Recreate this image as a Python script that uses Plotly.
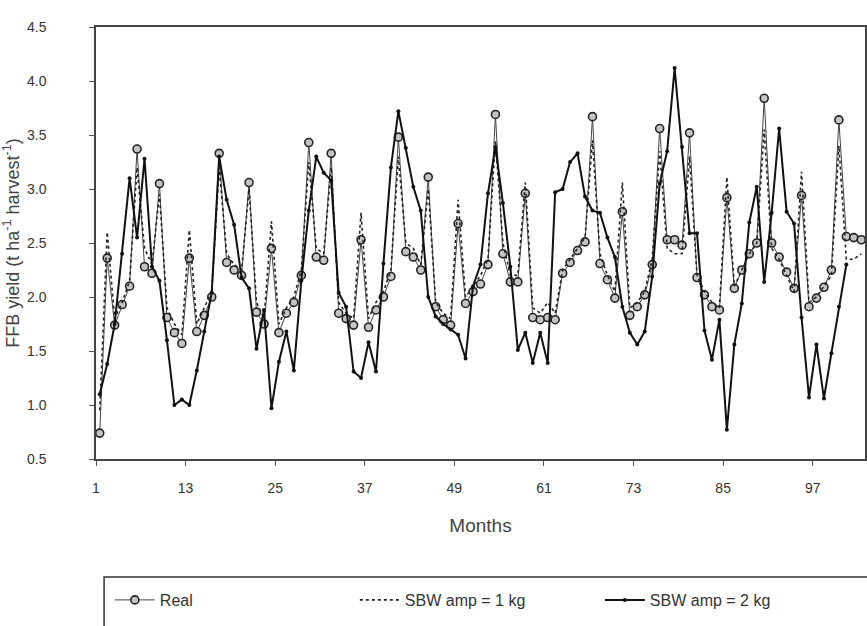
import plotly.graph_objects as go

months = list(range(1, 104))

real = [0.74, 2.36, 1.74, 1.93, 2.10, 3.37, 2.28, 2.22, 3.05, 1.81,
        1.67, 1.57, 2.36, 1.68, 1.83, 2.00, 3.33, 2.32, 2.25, 2.20,
        3.06, 1.86, 1.75, 2.45, 1.67, 1.85, 1.95, 2.20, 3.43, 2.37,
        2.34, 3.33, 1.85, 1.80, 1.74, 2.53, 1.72, 1.88, 2.00, 2.19,
        3.48, 2.42, 2.37, 2.25, 3.11, 1.91, 1.79, 1.74, 2.68, 1.94,
        2.05, 2.12, 2.30, 3.69, 2.40, 2.14, 2.14, 2.96, 1.81, 1.79,
        1.81, 1.79, 2.22, 2.32, 2.43, 2.51, 3.67, 2.31, 2.16, 1.99,
        2.79, 1.83, 1.91, 2.02, 2.30, 3.56, 2.53, 2.53, 2.48, 3.52,
        2.18, 2.02, 1.91, 1.88, 2.92, 2.08, 2.25, 2.40, 2.50, 3.84,
        2.50, 2.37, 2.23, 2.08, 2.94, 1.91, 1.99, 2.09, 2.25, 3.64,
        2.56, 2.55, 2.53]

sbw_1kg = [0.95, 2.60, 1.80, 1.95, 2.15, 3.20, 2.45, 2.30, 2.95, 1.90,
           1.75, 1.65, 2.62, 1.75, 1.90, 2.05, 3.20, 2.40, 2.30, 2.25,
           3.00, 1.95, 1.80, 2.70, 1.75, 1.90, 2.00, 2.25, 3.25, 2.45,
           2.40, 3.20, 1.95, 1.85, 1.80, 2.78, 1.80, 1.95, 2.05, 2.25,
           3.30, 2.50, 2.45, 2.30, 3.00, 1.95, 1.85, 1.80, 2.90, 2.00,
           2.10, 2.20, 2.35, 3.45, 2.50, 2.20, 2.20, 3.06, 1.90, 1.85,
           1.95, 1.85, 2.25, 2.35, 2.45, 2.55, 3.45, 2.40, 2.20, 2.05,
           3.06, 1.90, 1.95, 2.05, 2.35, 3.35, 2.45, 2.40, 2.40, 3.30,
           2.20, 2.05, 1.95, 1.90, 3.11, 2.10, 2.25, 2.40, 2.50, 3.55,
           2.45, 2.35, 2.20, 2.05, 3.16, 1.95, 2.00, 2.10, 2.20, 3.40,
           2.35, 2.35, 2.40]

sbw_2kg = [1.10, 1.38, 1.75, 2.40, 3.10, 2.55, 3.28, 2.28, 2.15, 1.60,
           1.00, 1.05, 1.00, 1.32, 1.68, 2.04, 3.30, 2.90, 2.67, 2.18,
           2.08, 1.52, 1.88, 0.97, 1.40, 1.68, 1.32, 2.15, 2.80, 3.30,
           3.15, 3.08, 2.04, 1.91, 1.31, 1.25, 1.58, 1.31, 2.31, 3.20,
           3.72, 3.38, 3.02, 2.80, 2.00, 1.82, 1.75, 1.70, 1.65, 1.43,
           2.10, 2.30, 2.96, 3.39, 2.87, 2.28, 1.51, 1.67, 1.39, 1.67,
           1.39, 2.97, 3.00, 3.25, 3.33, 2.93, 2.80, 2.78, 2.55, 2.37,
           1.91, 1.67, 1.56, 1.68, 2.19, 3.05, 3.35, 4.12, 3.39, 2.59,
           2.59, 1.69, 1.42, 1.79, 0.77, 1.56, 1.94, 2.69, 3.02, 2.14,
           2.78, 3.56, 2.79, 2.68, 1.81, 1.07, 1.56, 1.06, 1.48, 1.91,
           2.30, None, None]

tick_labels = ["1", "13", "25", "37", "49", "61", "73", "85", "97"]
tick_pos = [int(t) - 0.5 for t in tick_labels]

FONT = "Liberation Sans, Arial, sans-serif"

fig = go.Figure()
fig.add_trace(go.Scatter(
    x=months, y=real, name="Real", mode="lines+markers",
    line=dict(color="#444444", width=1),
    marker=dict(symbol="circle", size=8, color="#c4c4c4",
                line=dict(color="#222222", width=1.6)),
))
fig.add_trace(go.Scatter(
    x=months, y=sbw_1kg, name="SBW amp = 1 kg", mode="lines",
    line=dict(color="#222222", width=1.6, dash="dot"),
))
fig.add_trace(go.Scatter(
    x=months, y=sbw_2kg, name="SBW amp = 2 kg", mode="lines+markers",
    line=dict(color="#111111", width=2),
    marker=dict(symbol="circle", size=4, color="#111111"),
    connectgaps=False,
))

fig.update_layout(
    width=867, height=626,
    margin=dict(l=96, r=2, t=27, b=167, autoexpand=False),
    paper_bgcolor="white", plot_bgcolor="white",
    font=dict(family=FONT, color="#333333"),
    showlegend=True,
    legend=dict(
        orientation="h", x=0.018, xanchor="left", y=-0.287, yanchor="top",
        bgcolor="rgba(0,0,0,0)", borderwidth=0,
        font=dict(size=16, family=FONT, color="#333333"),
        entrywidth=190, itemwidth=40,
    ),
    shapes=[dict(
        type="rect", xref="paper", yref="paper",
        x0=0.0105, x1=1.02, y0=-0.45, y1=-0.273,
        line=dict(color="#333333", width=1.5), fillcolor="rgba(0,0,0,0)",
        layer="below",
    )],
)

fig.update_xaxes(
    range=[0.5, 103.5],
    tickvals=tick_pos, ticktext=tick_labels,
    ticks="outside", ticklen=5, tickcolor="#555555",
    tickfont=dict(size=14, family=FONT, color="#333333"),
    ticklabelstandoff=10,
    showline=True, linecolor="#444444", linewidth=1.5, mirror=True,
    showgrid=False, zeroline=False,
    title=dict(text="Months", font=dict(size=19, family=FONT, color="#444444"),
               standoff=24),
)
fig.update_yaxes(
    range=[0.5, 4.5], dtick=0.5, tick0=0.5, tickformat=".1f",
    ticks="outside", ticklen=5, tickcolor="#555555",
    tickfont=dict(size=14, family=FONT, color="#333333"),
    ticklabelstandoff=40,
    showline=True, linecolor="#444444", linewidth=1.5, mirror=True,
    showgrid=False, zeroline=False,
    title=dict(text="FFB yield (t ha<sup>-1</sup> harvest<sup>-1</sup>)",
               font=dict(size=18, family=FONT, color="#444444"),
               standoff=4),
)

fig.write_html("out.html")
